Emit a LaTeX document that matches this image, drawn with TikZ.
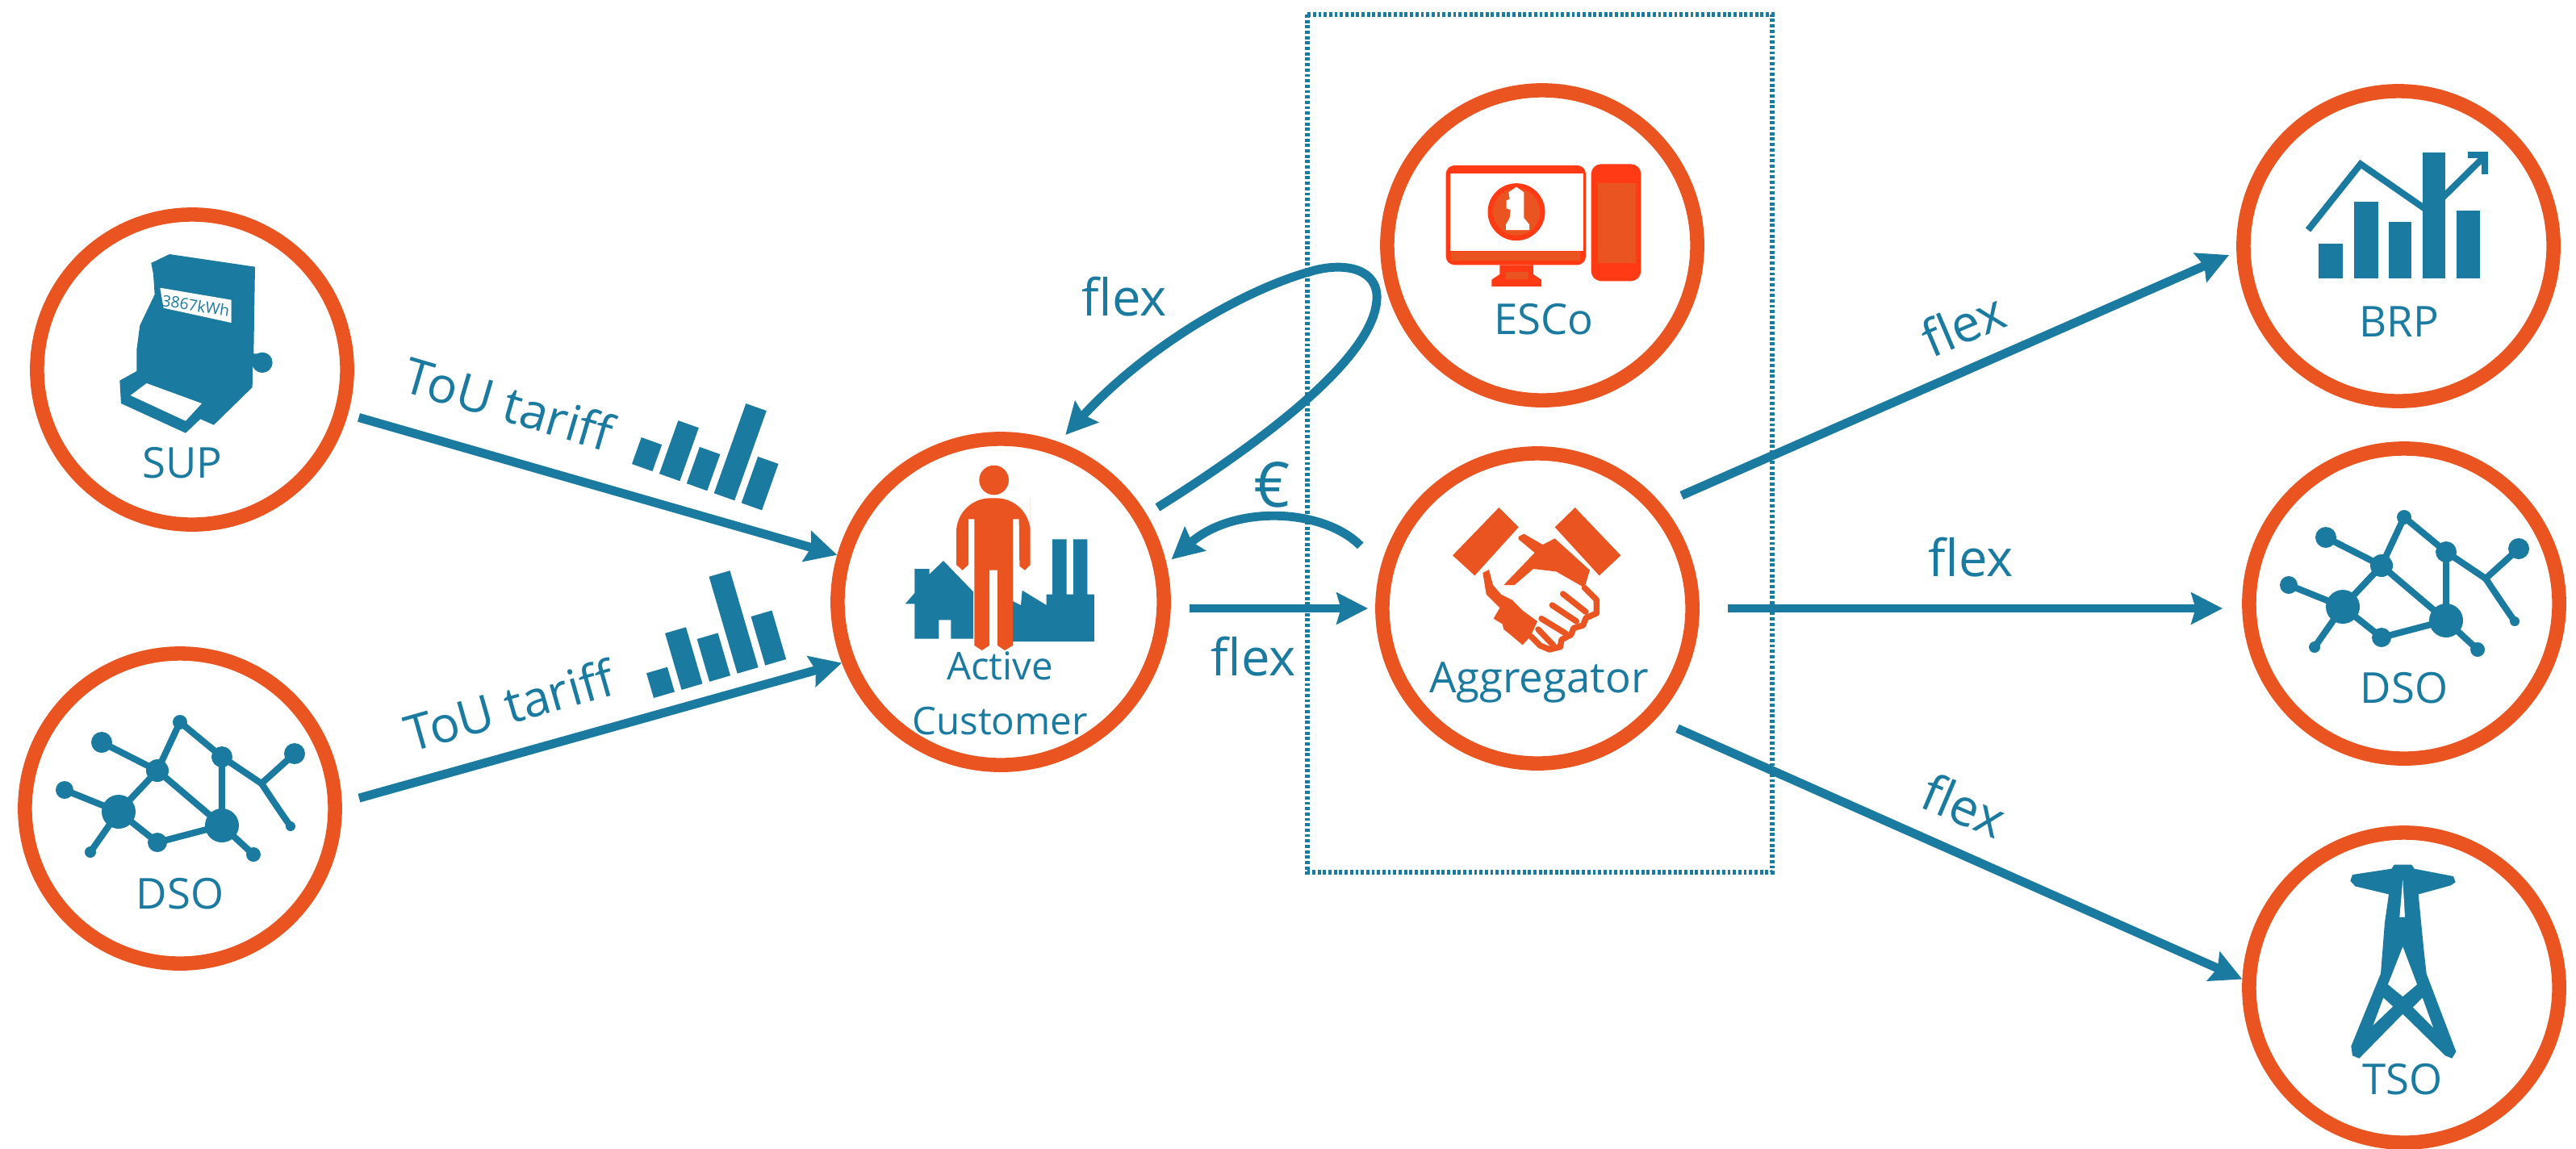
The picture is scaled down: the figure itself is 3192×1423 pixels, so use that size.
\documentclass[tikz,border=0pt]{standalone}
\usepackage{fontspec}
\usepackage{xcolor}
\setmainfont{Open Sans}
\usetikzlibrary{arrows.meta}
\definecolor{flowblue}{HTML}{1A7AA0}
\definecolor{ringorange}{HTML}{E95420}
\definecolor{screenred}{HTML}{FF3A14}
\tikzset{
actor/.style={circle, draw=ringorange, line width=5pt, minimum size=3.84cm, inner sep=0pt},
actorlabel/.style={text=flowblue, font=\fontsize{15}{19.3}\selectfont, align=center, inner sep=0pt},
flexlabel/.style={text=flowblue, font=\fontsize{18}{20}\selectfont, inner sep=0pt},
tariffilabel/.style={text=flowblue, font=\fontsize{17.5}{20}\selectfont, inner sep=0pt},
flowline/.style={draw=flowblue, line width=3.1pt, -{Stealth[length=11pt, width=11pt, inset=1.5pt]}},
handline/.style={draw=ringorange, line width=2.1pt, line cap=round, line join=round}
}
\newcommand{\gridicon}[2]{%
\begin{scope}[shift={(#1,#2)}]
\draw[flowblue, line width=2.3pt] (-97,-82) -- (-28,-47) -- (0,-107) -- (52,-64) -- (101,-31) -- (142,-68);
\draw[flowblue, line width=2.3pt] (101,-31) .. controls (115,-10) and (125,5) .. (137,22);
\draw[flowblue, line width=2.3pt] (52,-64) -- (52,21) -- (-28,-47) -- (-76,4) -- (-143,-23);
\draw[flowblue, line width=2.3pt] (-111,54) -- (-76,4) -- (-28,42) -- (52,21) -- (91,57);
\fill[flowblue] (-97,-82) circle (13);
\fill[flowblue] (0,-107) circle (9);
\fill[flowblue] (52,-64) circle (13);
\fill[flowblue] (142,-68) circle (13);
\fill[flowblue] (-28,-47) circle (14);
\fill[flowblue] (-143,-23) circle (11);
\fill[flowblue] (-76,4) circle (21);
\fill[flowblue] (52,21) circle (21);
\fill[flowblue] (-28,42) circle (12);
\fill[flowblue] (-111,54) circle (7);
\fill[flowblue] (91,57) circle (9);
\fill[flowblue] (137,22) circle (6);
\end{scope}}
\begin{document}
\begin{tikzpicture}[x=0.01cm,y=-0.01cm]
\useasboundingbox (0,0) rectangle (3192,1423);
\draw[flowblue, line width=1.7pt, dash pattern=on 1.1pt off 0.8pt] (1620,18) rectangle (2196,1081);
\node[actor] (sup) at (238,458) {};
\node[actor] (dsoleft) at (223,1002) {};
\node[actor, minimum size=4.04cm] (active) at (1240,746) {};
\node[actor] (esco) at (1911,304) {};
\node[actor] (agg) at (1905,754) {};
\node[actor] (brp) at (2972,305) {};
\node[actor] (dsoright) at (2979,748) {};
\node[actor] (tso) at (2979,1224) {};
\begin{scope}[shift={(130,300)},scale=0.3333]
\fill[flowblue] (172,78) -- (240,45) -- (558,92) -- (553,415) -- (570,415) -- (550,460) -- (548,540) -- (405,680) -- (355,658) -- (300,710) -- (60,600) -- (55,515) -- (118,480) -- (118,400) -- (130,310) -- (185,195) -- (180,120) -- cycle;
\fill[flowblue] (585,448) circle (38);
\fill[white] (205,170) -- (470,215) -- (470,300) -- (218,245) -- cycle;
\fill[white] (155,525) -- (360,600) -- (300,665) -- (95,570) -- cycle;
\node[text=flowblue, font=\fontsize{5.5}{6}\selectfont, rotate=-9, inner sep=0pt] (meterread) at (338,236) {3867kWh};
\end{scope}
\gridicon{223}{1002}
\gridicon{2979}{748}
\begin{scope}[shift={(1100,560)},scale=0.3333]
\fill[flowblue] (100,435) -- (155,435) -- (155,455) -- (207,405) -- (318,520) -- (318,695) -- (235,695) -- (235,625) -- (190,625) -- (190,695) -- (100,695) -- (100,565) -- (65,565) -- (100,525) -- cycle;
\fill[flowblue] (465,555) -- (495,570) -- (500,515) -- (590,570) -- (590,530) -- (612,530) -- (612,325) -- (665,325) -- (665,530) -- (690,530) -- (690,325) -- (742,325) -- (742,530) -- (768,530) -- (768,705) -- (465,705) -- cycle;
\fill[ringorange] (395,105) circle (55);
\fill[ringorange, rounded corners=12pt] (255,300) -- (255,172) -- (530,172) -- (530,300) [sharp corners] -- (530,420) -- (510,440) -- (490,425) -- (488,250) -- (465,250) -- (465,720) -- (435,738) -- (408,720) -- (408,440) -- (378,440) -- (378,720) -- (350,738) -- (322,720) -- (322,250) -- (300,250) -- (300,420) -- (278,440) -- (255,420) -- cycle;
\end{scope}
\begin{scope}[shift={(1780,190)},scale=0.3333]
\fill[screenred, rounded corners=3pt] (35,45) rectangle (555,415);
\fill[white] (52,75) rectangle (545,362);
\fill[ringorange] (55,365) rectangle (535,400);
\fill[screenred] (235,415) -- (360,415) -- (360,450) -- (390,470) -- (390,495) -- (205,495) -- (205,470) -- (235,450) -- cycle;
\fill[ringorange] (258,440) rectangle (340,468);
\fill[screenred, rounded corners=3.5pt] (575,40) rectangle (760,475);
\fill[ringorange] (600,110) rectangle (740,408);
\filldraw[fill=ringorange, draw=screenred, line width=1.8pt] (297,218) circle (97);
\fill[white] (268,145) -- (297,125) -- (325,145) -- (325,240) -- (345,265) -- (345,285) -- (258,285) -- (258,265) -- (272,240) -- (275,210) -- (260,205) -- (260,175) -- (272,170) -- cycle;
\end{scope}
\begin{scope}[shift={(1780,610)},scale=0.3333]
\fill[ringorange] (232,57) -- (305,130) -- (142,310) -- (60,235) -- cycle;
\fill[ringorange] (515,57) -- (685,235) -- (605,310) -- (440,130) -- cycle;
\fill[ringorange] (305,165) -- (325,155) -- (395,195) -- (440,172) -- (570,290) -- (550,355) -- (445,295) -- (360,285) -- (290,345) -- (250,345) -- (365,225) -- (305,175) -- cycle;
\fill[ringorange] (172,300) -- (195,288) -- (210,345) -- (240,380) -- (280,400) -- (320,440) -- (375,480) -- (350,535) -- (320,568) -- (275,530) -- (250,510) -- (245,490) -- (212,470) -- (235,430) -- (185,380) -- cycle;
\draw[handline] (550,355) -- (595,400) -- (595,450) -- (555,468) -- (545,495) -- (510,505) -- (500,530) -- (465,548) -- (460,575) -- (420,585) -- (385,570) -- (350,535);
\draw[handline] (470,378) -- (555,445);
\draw[handline] (430,420) -- (520,480);
\draw[handline] (390,470) -- (480,525);
\draw[handline] (378,510) -- (435,570);
\end{scope}
\begin{scope}[shift={(2840,170)},scale=0.3333]
\fill[flowblue] (100,395) rectangle (190,525);
\fill[flowblue] (230,240) rectangle (320,525);
\fill[flowblue] (360,315) rectangle (445,525);
\fill[flowblue] (485,57) rectangle (570,525);
\fill[flowblue] (612,272) rectangle (700,525);
\draw[flowblue, line width=2.3pt] (60,345) -- (255,100) -- (500,270);
\draw[flowblue, line width=2.3pt] (560,225) -- (712,75);
\draw[flowblue, line width=2.3pt] (655,67) -- (718,67) -- (718,138);
\end{scope}
\begin{scope}[shift={(2840,1060)},scale=0.3333]
\fill[flowblue] (380,35) -- (445,35) -- (455,50) -- (600,78) -- (608,100) -- (590,112) -- (470,145) -- (490,350) -- (500,440) -- (610,730) -- (595,755) -- (570,745) -- (412,590) -- (250,755) -- (225,745) -- (220,710) -- (330,440) -- (345,250) -- (360,145) -- (235,115) -- (217,95) -- (225,72) -- (370,50) -- cycle;
\fill[white] (412,90) -- (420,230) -- (400,230) -- cycle;
\fill[white] (412,340) -- (465,480) -- (412,525) -- (357,480) -- cycle;
\fill[white] (340,530) -- (375,562) -- (302,632) -- cycle;
\fill[white] (485,530) -- (525,640) -- (450,565) -- cycle;
\end{scope}
\node[actorlabel] (suplabel) at (226,574) {SUP};
\node[actorlabel] (dsoleftlabel) at (223,1108) {DSO};
\node[actorlabel, font=\fontsize{13.5}{19.3}\selectfont] (activelabel) at (1239,859) {Active\\Customer};
\node[actorlabel] (escolabel) at (1913,396) {ESCo};
\node[actorlabel] (agglabel) at (1907,846) {Aggregator};
\node[actorlabel] (brplabel) at (2973,399) {BRP};
\node[actorlabel] (dsorightlabel) at (2979,853) {DSO};
\node[actorlabel] (tsolabel) at (2977,1338) {TSO};
\draw[flowline, shorten <=0.14cm] (sup) -- (active);
\draw[flowline, shorten <=0.22cm] (dsoleft.2) -- (active.201);
\coordinate (loopright) at (1706,365);
\coordinate (looptop) at (1622,337);
\draw[flowline, shorten <=0.16cm, shorten >=0.12cm] (active.31) .. controls (1560,550) and (1710,440) .. (loopright) .. controls (1703,330) and (1660,325) .. (looptop) .. controls (1540,360) and (1420,430) .. (active.70);
\draw[flowline, shorten <=0.36cm, shorten >=0.08cm] (agg.165) .. controls (1640,630) and (1530,625) .. (active.13);
\draw[flowline, shorten <=0.23cm, shorten >=0.09cm] (active.east |- agg.west) -- (agg.west);
\draw[flowline, shorten <=0.27cm, shorten >=0.1cm] (agg.40) -- (brp.182);
\draw[flowline, shorten <=0.35cm, shorten >=0.24cm] (agg.east) -- (agg.east -| dsoright.west);
\draw[flowline, shorten <=0.29cm] (agg.-43) -- (tso.177);
\node[tariffilabel, rotate=-16.4] (toutop) at (631,500) {ToU tariff};
\node[tariffilabel, rotate=15.9] (toulow) at (631,874) {ToU tariff};
\begin{scope}[shift={(783,575)},rotate=-19.6]
\fill[flowblue] (0,0) rectangle (27,-35);
\fill[flowblue] (36,0) rectangle (63,-70);
\fill[flowblue] (72,0) rectangle (99,-48);
\fill[flowblue] (108,0) rectangle (135,-118);
\fill[flowblue] (144,0) rectangle (171,-61);
\end{scope}
\begin{scope}[shift={(810,865)},rotate=16.3]
\fill[flowblue] (0,0) rectangle (27,-32);
\fill[flowblue] (36,0) rectangle (63,-73);
\fill[flowblue] (72,0) rectangle (99,-55);
\fill[flowblue] (108,0) rectangle (135,-125);
\fill[flowblue] (144,0) rectangle (171,-63);
\end{scope}
\node[flexlabel] (flexloop) at (1393,368) {flex};
\node[flexlabel, font=\fontsize{22}{24}\selectfont] (euro) at (1576,601) {€};
\node[flexlabel] (flexmid) at (1553,814) {flex};
\node[flexlabel, rotate=23] (flexbrp) at (2432,402) {flex};
\node[flexlabel] (flexdso) at (2442,691) {flex};
\node[flexlabel, rotate=-23] (flextso) at (2434,998) {flex};
\end{tikzpicture}
\end{document}
